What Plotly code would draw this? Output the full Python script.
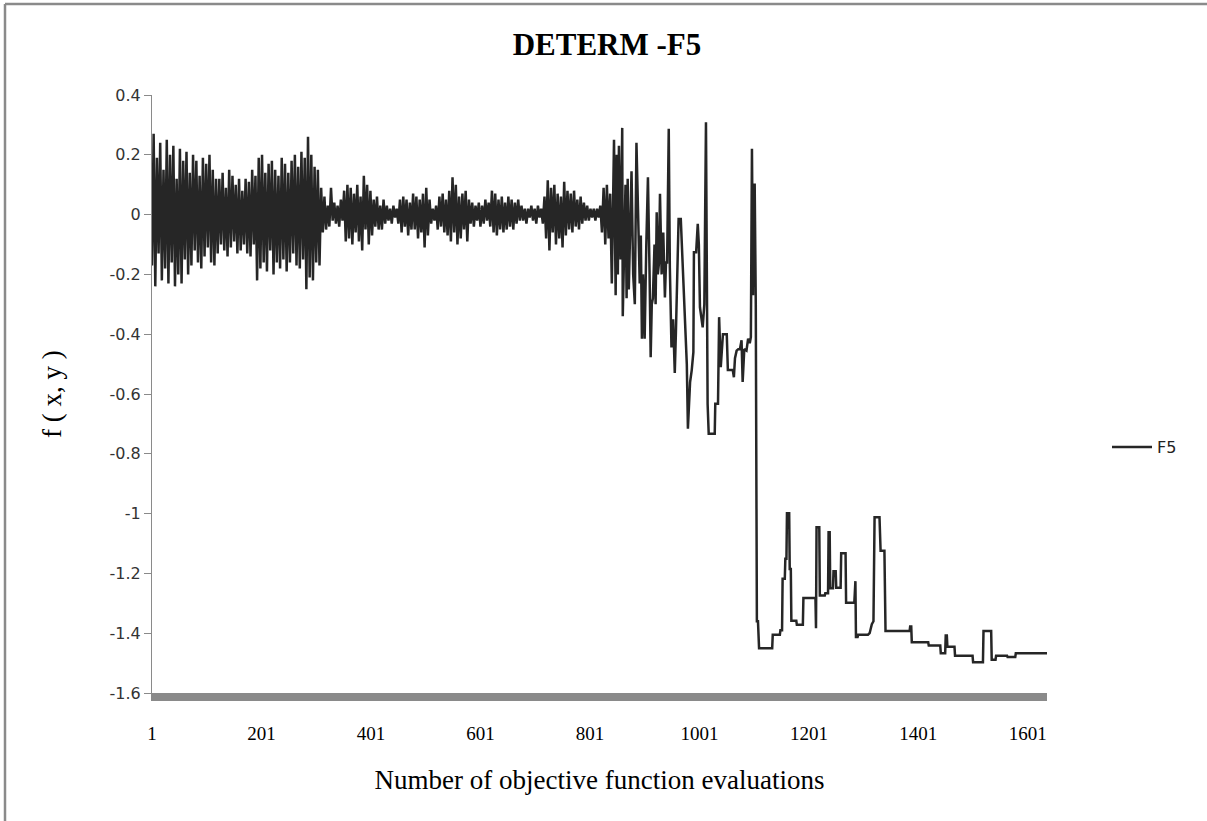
import plotly.graph_objects as go

# ---------------- data ----------------
# Phase 1: dense oscillation, sampled every 3rd evaluation starting at 1
noisy_start = 1
noisy_step = 3
noisy_values = [
    -0.17, 0.27, -0.24, 0.19, -0.13, 0.24, -0.22, 0.15, -0.18, 0.25, -0.23, 0.20, -0.16, 0.23, -0.24, 0.12, -0.20, 0.22, -0.23, 0.18,
    -0.15, 0.21, -0.20, 0.14, -0.17, 0.20, -0.12, 0.18, -0.16, 0.13, -0.18, 0.19, -0.14, 0.17, -0.11, 0.20, -0.16, 0.15, -0.17, 0.12,
    -0.13, 0.12, -0.10, 0.14, -0.12, 0.09, -0.14, 0.15, -0.11, 0.13, -0.09, 0.10, -0.13, 0.12, -0.12, 0.08, -0.10, 0.12, -0.13, 0.11,
    -0.14, 0.15, -0.10, 0.13, -0.22, 0.19, -0.18, 0.20, -0.16, 0.14, -0.19, 0.17, -0.12, 0.18, -0.20, 0.15, -0.16, 0.13, -0.18, 0.19,
    -0.15, 0.17, -0.19, 0.14, -0.16, 0.18, -0.13, 0.20, -0.17, 0.16, -0.18, 0.21, -0.15, 0.19, -0.25, 0.26, -0.21, 0.20, -0.22, 0.16,
    -0.16, 0.15, -0.17, 0.09, -0.06, 0.06, -0.05, 0.03, -0.04, 0.09, -0.02, 0.04, -0.03, 0.03, -0.04, 0.05, -0.02, 0.08, -0.09, 0.10,
    -0.08, 0.09, -0.10, 0.07, -0.06, 0.10, -0.09, 0.06, -0.12, 0.13, -0.05, 0.10, -0.10, 0.08, -0.07, 0.05, -0.04, 0.06, -0.05, 0.03,
    -0.05, 0.05, -0.03, 0.03, -0.02, 0.02, -0.03, 0.03, -0.01, 0.02, -0.03, 0.05, -0.06, 0.06, -0.04, 0.05, -0.07, 0.04, -0.05, 0.07,
    -0.05, 0.06, -0.08, 0.05, -0.06, 0.07, -0.11, 0.09, -0.07, 0.05, -0.03, 0.02, -0.02, 0.03, -0.05, 0.06, -0.04, 0.07, -0.06, 0.05,
    -0.07, 0.08, -0.09, 0.125, -0.06, 0.10, -0.10, 0.06, -0.08, 0.07, -0.05, 0.08, -0.09, 0.05, -0.03, 0.04, -0.04, 0.03, -0.02, 0.04,
    -0.04, 0.03, -0.03, 0.05, -0.02, 0.04, -0.04, 0.08, -0.06, 0.07, -0.07, 0.05, -0.05, 0.06, -0.06, 0.04, -0.05, 0.06, -0.04, 0.05,
    -0.05, 0.04, -0.03, 0.05, -0.02, 0.03, -0.02, 0.02, -0.03, 0.02, -0.01, 0.03, -0.02, 0.02, -0.03, 0.03, -0.01, 0.02, -0.03, 0.06,
    -0.08, 0.115, -0.12, 0.09, -0.06, 0.10, -0.10, 0.07, -0.08, 0.06, -0.11, 0.11, -0.07, 0.08, -0.05, 0.07, -0.06, 0.08, -0.04, 0.05,
    -0.05, 0.06, -0.03, 0.04, -0.02, 0.03, -0.02, 0.02, -0.01, 0.02, -0.02, 0.02, -0.01, 0.03, -0.06, 0.09, -0.10, 0.10, -0.08, 0.07,
]

# Phase 2: large excursions before the collapse
spike_evals = [
    841, 845, 848, 850, 852, 854, 857, 860, 861, 864, 866, 868, 870, 872, 875, 877, 880, 883, 886, 889,
    892, 894, 896, 898, 901, 904, 907, 910, 912, 914, 916, 919, 921, 923, 925, 927, 929, 932, 935, 938,
    940, 942, 945, 947, 950, 953, 956, 958, 960, 963, 967, 969, 972, 976, 978, 980, 982, 984, 987, 990,
    991, 995, 998, 1000, 1002, 1005, 1007, 1010, 1013, 1016, 1018, 1029, 1030, 1035, 1037, 1040, 1042, 1044, 1051, 1053,
    1062, 1064, 1066, 1069, 1072, 1075, 1078, 1080, 1083, 1087, 1090, 1093, 1095, 1097, 1099, 1100, 1102, 1104,
]
spike_values = [
    -0.23, 0.25, -0.27, 0.20, -0.20, 0.23, -0.15, 0.29, -0.34, -0.10, 0.10, -0.28, 0.12, -0.25, 0.05, 0.145, -0.20, -0.30, 0.24, -0.05,
    -0.23, -0.07, -0.415, -0.20, -0.415, -0.10, 0.125, -0.20, -0.477, -0.30, -0.28, -0.10, -0.30, 0.008, -0.20, -0.165, 0.07, -0.20, -0.06, -0.277,
    -0.16, -0.16, 0.287, -0.176, -0.444, -0.35, -0.53, -0.40, -0.204, -0.015, -0.015, -0.11, -0.227, -0.40, -0.50, -0.716, -0.65, -0.56, -0.52, -0.46,
    -0.126, -0.126, -0.031, -0.10, -0.31, -0.36, -0.377, -0.30, 0.309, -0.633, -0.733, -0.733, -0.633, -0.633, -0.343, -0.51, -0.45, -0.40, -0.40, -0.52,
    -0.52, -0.544, -0.48, -0.455, -0.45, -0.45, -0.42, -0.56, -0.45, -0.455, -0.415, -0.43, -0.41, 0.22, -0.27, 0.10, 0.10, -0.30,
]

# Phase 3: stepwise best values after the collapse
step_evals = [
    1106, 1108, 1110, 1134, 1135, 1148, 1149, 1152, 1153, 1157, 1158, 1160, 1161, 1162, 1163, 1164, 1165, 1166, 1168, 1169,
    1178, 1179, 1190, 1191, 1213, 1214, 1215, 1220, 1221, 1230, 1231, 1236, 1237, 1239, 1240, 1245, 1246, 1250, 1251, 1259,
    1260, 1268, 1269, 1284, 1286, 1287, 1290, 1291, 1309, 1312, 1316, 1319, 1321, 1330, 1332, 1339, 1341, 1385, 1386, 1388,
    1389, 1419, 1420, 1441, 1442, 1450, 1451, 1453, 1454, 1467, 1468, 1500, 1501, 1519, 1520, 1534, 1535, 1542, 1543, 1563,
    1564, 1578, 1579, 1636,
]
step_values = [
    -1.36, -1.36, -1.45, -1.45, -1.405, -1.405, -1.39, -1.39, -1.218, -1.218, -1.151, -1.151, -0.995, -1.05, -0.995, -1.05, -0.995, -1.185, -1.185, -1.358,
    -1.358, -1.372, -1.372, -1.282, -1.282, -1.383, -1.046, -1.046, -1.274, -1.274, -1.266, -1.266, -1.062, -1.062, -1.25, -1.25, -1.193, -1.193, -1.248, -1.248,
    -1.133, -1.133, -1.298, -1.298, -1.226, -1.413, -1.413, -1.405, -1.405, -1.40, -1.37, -1.36, -1.012, -1.012, -1.124, -1.124, -1.393, -1.393, -1.378, -1.378,
    -1.43, -1.43, -1.441, -1.441, -1.467, -1.467, -1.408, -1.408, -1.445, -1.445, -1.475, -1.475, -1.497, -1.497, -1.393, -1.393, -1.489, -1.489, -1.475, -1.475,
    -1.48, -1.48, -1.467, -1.467,
]

x_tick_values = [1, 201, 401, 601, 801, 1001, 1201, 1401, 1601]
x_tick_labels = ["1", "201", "401", "601", "801", "1001", "1201", "1401", "1601"]
y_tick_values = [0.4, 0.2, 0, -0.2, -0.4, -0.6, -0.8, -1, -1.2, -1.4, -1.6]
y_tick_labels = ["0.4", "0.2", "0", "-0.2", "-0.4", "-0.6", "-0.8", "-1", "-1.2", "-1.4", "-1.6"]
x_range = [1, 1636]
y_range = [-1.6, 0.4]

# ---------------- build ----------------
noisy_evals = [noisy_start + noisy_step * i for i in range(len(noisy_values))]
evals = noisy_evals + spike_evals + step_evals
values = noisy_values + spike_values + step_values

W, H = 1207, 821
L, R, T, B = 152, 160, 95, 128
pw, ph = W - L - R, H - T - B

def px_to_paper_x(px):
    return (px - L) / pw

def px_to_paper_y(py):
    return (H - B - py) / ph

fig = go.Figure()
fig.add_trace(go.Scatter(
    x=evals, y=values, mode="lines", name="F5",
    line=dict(color="#262626", width=2.5),
))

serif = "Liberation Serif, Times New Roman, serif"
sans = "DejaVu Sans, Verdana, sans-serif"
border = dict(color="#8a8a8a", width=2.5)

fig.update_layout(
    width=W, height=H,
    margin=dict(l=L, r=R, t=T, b=B),
    paper_bgcolor="white", plot_bgcolor="white",
    title=dict(text="<b>DETERM -F5</b>", font=dict(family=serif, size=31, color="black"),
               x=px_to_paper_x(607), xref="paper", xanchor="center",
               y=1 - 44 / H, yref="container", yanchor="middle"),
    showlegend=True,
    legend=dict(x=px_to_paper_x(1107), y=px_to_paper_y(447), xanchor="left", yanchor="middle",
                font=dict(family=sans, size=16, color="#222"), bgcolor="rgba(0,0,0,0)",
                itemwidth=40),
    xaxis=dict(range=x_range, tickmode="array", tickvals=x_tick_values, ticktext=x_tick_labels,
               showgrid=False, zeroline=False, showline=True, linecolor="#8a8a8a", linewidth=8,
               ticks="outside", ticklen=16, tickcolor="rgba(0,0,0,0)",
               tickfont=dict(family=serif, size=19, color="black"),
               title=dict(text="Number of objective function evaluations",
                          font=dict(family=serif, size=27, color="black"), standoff=30)),
    yaxis=dict(range=y_range, tickmode="array", tickvals=y_tick_values, ticktext=y_tick_labels,
               showgrid=False, zeroline=False, showline=True, linecolor="#8a8a8a", linewidth=1,
               ticks="outside", ticklen=7, tickcolor="#8a8a8a",
               tickfont=dict(family=sans, size=16, color="#333"),
               title=dict(text="f ( x, y )", font=dict(family=serif, size=27, color="black"), standoff=40)),
    shapes=[
        dict(type="line", xref="paper", yref="paper",
             x0=px_to_paper_x(5), x1=px_to_paper_x(1600),
             y0=px_to_paper_y(4), y1=px_to_paper_y(4), line=border, layer="below"),
        dict(type="line", xref="paper", yref="paper",
             x0=px_to_paper_x(5), x1=px_to_paper_x(5),
             y0=px_to_paper_y(4), y1=px_to_paper_y(1200), line=border, layer="below"),
    ],
)

fig.write_html("out.html", config={"displayModeBar": False},
               post_script="document.body.style.margin='0';")
